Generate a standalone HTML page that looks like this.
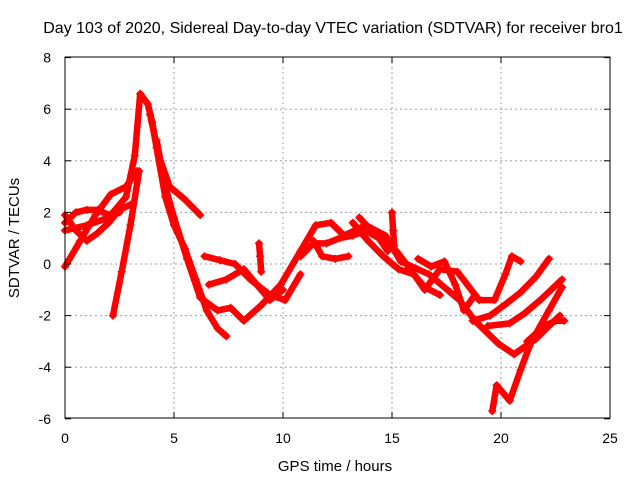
<!DOCTYPE html>
<html><head><meta charset="utf-8"><style>
body{margin:0;background:#fff;}
svg{display:block;font-family:"Liberation Sans",sans-serif;}
</style></head><body>
<svg id="c" width="640" height="480">
<text x="333" y="33" font-size="16" text-anchor="middle">Day 103 of 2020, Sidereal Day-to-day VTEC variation (SDTVAR) for receiver bro1</text>
<text x="335" y="471" font-size="15" text-anchor="middle">GPS time / hours</text>
<text transform="translate(19,238) rotate(-90)" font-size="15" text-anchor="middle">SDTVAR / TECUs</text>
<g id="grid"></g><g id="marks"></g><g id="axes"></g>
</svg>
<script>
const xTicks=[0,5,10,15,20,25];
const yTicks=[-6,-4,-2,0,2,4,6,8];
const trackA=[[0,1.3],[1,1.5],[2,1.8],[2.8,2.6],[3.2,4.2],[3.45,6.6],[3.8,6.2],[4,5.5],[4.2,4.5],[4.6,2.6],[5,1.5],[5.5,0.6],[6,-0.6],[6.5,-1.8],[7,-2.5],[7.4,-2.8]];
const trackB=[[3.9,5.8],[4.3,4.2],[4.8,3],[5.5,2.5],[6.2,1.9]];
const trackC=[[4.2,4.8],[4.6,3],[5,1.8],[5.6,0.2],[6.2,-1.3],[7,-1.8],[7.6,-1.7],[8.2,-2.2],[9,-1.6],[9.9,-0.8],[10.8,0.5],[11.5,1.5],[12.2,1.6],[12.8,1.1],[13.8,1.5],[14.7,1.1],[15.4,0.1],[16.7,-0.4],[18.1,-1.4],[18.8,-2.2],[19.9,-3.1],[20.6,-3.5],[21.6,-2.9],[22.2,-2.4],[22.7,-2.0]];
const trackD=[[0,-0.1],[0.7,0.9],[1.4,1.9],[2.1,2.7],[2.8,3.0],[3.3,3.6]];
const trackE=[[2.2,-2],[2.6,-0.3],[3,1.5],[3.4,3.6]];
const trackF=[[6.4,0.3],[7.1,0.15],[7.8,0],[8.5,-0.6],[9.4,-1.2],[10.1,-1.4],[10.8,-0.4]];
const trackG=[[6.6,-0.8],[7.4,-0.6],[8.2,-0.2],[8.8,-0.8],[9.4,-1.4],[10,-1.0]];
const trackH=[[10.8,0.3],[11.4,0.8],[12,0.8],[12.6,1.0],[13.2,1.1],[13.8,1.3],[14.4,1.0],[14.8,0.5]];
const trackI=[[11.4,0.9],[11.8,0.3],[12.4,0.2],[13,0.3]];
const trackJ=[[13.5,1.8],[14.5,0.9],[15.2,0.5],[15.8,-0.15],[16.5,-1],[17.2,-0.2],[18,-0.3],[19,-1.4],[19.7,-1.4],[20.2,-0.4],[20.5,0.3],[20.9,0.1]];
const trackJ2=[[13.2,1.6],[13.9,0.9],[14.6,0.3],[15.3,-0.2],[16,-0.4],[16.5,-0.9],[17.2,-1.2]];
const trackK=[[18.7,-2.2],[19.5,-2.0],[20.3,-1.5],[20.9,-1.1],[21.6,-0.5],[22.2,0.2]];
const trackL=[[19.4,-2.4],[20.4,-2.3],[21.1,-1.9],[21.8,-1.4],[22.3,-1.0],[22.8,-0.6]];
const trackM=[[19.6,-5.7],[19.8,-4.7],[20.1,-5.0],[20.4,-5.3],[20.9,-4.1],[21.3,-3.2],[21.6,-2.7],[22.2,-1.8],[22.8,-0.9]];
const trackN=[[21.2,-3.0],[21.6,-2.7],[22.0,-2.4],[22.5,-2.2],[22.9,-2.2]];
const trackO=[[0,1.6],[0.5,2.0],[1,2.1],[1.5,2.1],[2,1.9],[2.5,2.0]];
const trackP=[[0,1.9],[0.5,1.3],[1,0.9],[1.5,1.2],[2,1.6],[2.5,2.1],[3,2.3]];
const trackQ=[[16.2,0.2],[16.8,-0.1],[17.4,0.1],[17.9,-0.8],[18.3,-1.8],[18.8,-1.2]];
const spike9=[[8.9,0.8],[8.95,0.3],[9.0,-0.3]];
const spike15=[[15.0,2.0],[15.05,1.3],[15.1,0.7]];
const tracks=[trackA,trackB,trackC,trackD,trackE,trackF,trackG,trackH,trackI,trackJ,trackJ2,trackK,trackL,trackM,trackN,trackO,trackP,trackQ,spike9,spike15];
const NS="http://www.w3.org/2000/svg";
const X=h=>65+21.8*h, Y=v=>264-25.8*v;
const grid=document.getElementById('grid'),marks=document.getElementById('marks'),axes=document.getElementById('axes');
function mk(tag,attrs,parent){const e=document.createElementNS(NS,tag);for(const k in attrs)e.setAttribute(k,attrs[k]);parent.appendChild(e);return e;}
xTicks.forEach(t=>{
 if(t>0&&t<25){const g=mk('line',{x1:X(t),x2:X(t),y1:57,y2:418,stroke:'#a0a0a0','stroke-dasharray':'2,3'},grid);
 
 }
 mk('line',{x1:X(t),x2:X(t),y1:418,y2:412,stroke:'#000'},axes);
 mk('line',{x1:X(t),x2:X(t),y1:57,y2:63,stroke:'#000'},axes);
 const l=mk('text',{x:X(t),y:443,'font-size':14,'text-anchor':'middle'},axes);l.textContent=t;
 
 
});
yTicks.forEach(t=>{
 if(t>-6&&t<8){const g=mk('line',{x1:65,x2:610,y1:Y(t),y2:Y(t),stroke:'#a0a0a0','stroke-dasharray':'2,3'},grid);
 
 }
 mk('line',{x1:65,x2:71,y1:Y(t),y2:Y(t),stroke:'#000'},axes);
 mk('line',{x1:610,x2:604,y1:Y(t),y2:Y(t),stroke:'#000'},axes);
 const l=mk('text',{x:51,y:Y(t)+5,'font-size':14,'text-anchor':'end'},axes);l.textContent=t;
 
 
});
const fr=mk('rect',{x:65,y:57,width:545,height:361,fill:'none',stroke:'#000'},axes);


tracks.forEach(tr=>{
 const p=mk('polyline',{points:tr.map(d=>X(d[0])+','+Y(d[1])).join(' '),fill:'none',stroke:'#ff0000','stroke-width':6.5,'stroke-linejoin':'round','stroke-linecap':'round'},marks);
 
 
 tr.forEach(d=>{const m=mk('path',{d:`M${X(d[0])-4},${Y(d[1])}h8M${X(d[0])},${Y(d[1])-4}v8`,stroke:'#ff0000','stroke-width':1.5},marks);
 
 });
});
</script>
</body></html>
